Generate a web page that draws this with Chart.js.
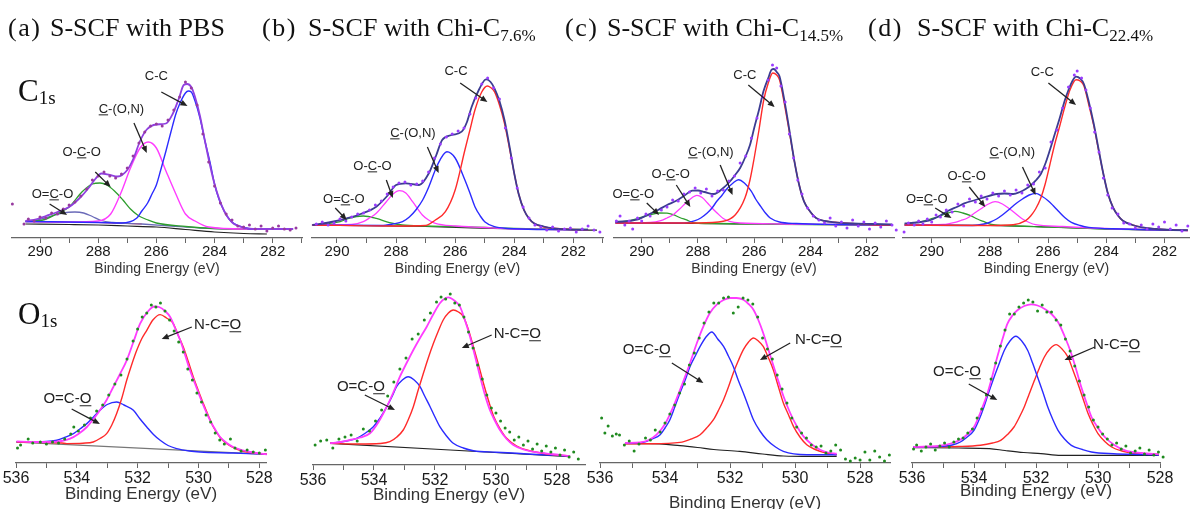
<!DOCTYPE html>
<html>
<head>
<meta charset="utf-8">
<title>XPS C1s / O1s fits</title>
<script src="https://cdn.jsdelivr.net/npm/chart.js@4.4.1/dist/chart.umd.min.js"></script>
<style>
    body { margin: 0; width: 1190px; height: 509px; overflow: hidden; position: relative; background: #fff; }
    canvas { position: absolute; }
    .head { position: absolute; z-index: 2; font-family: 'Liberation Serif', 'Times New Roman', serif; font-size: 26px; line-height: 1; white-space: nowrap; color: #111; }
    .head sub { font-size: 17px; vertical-align: -5px; line-height: 0; }
    .elem { position: absolute; z-index: 2; font-family: 'Liberation Serif', 'Times New Roman', serif; font-size: 31px; line-height: 1; color: #111; }
    .elem sub { font-size: 19px; vertical-align: -3px; line-height: 0; }
</style>
</head>
<body>
<div id="stage"></div>
<div class="head" style="left:8px;top:15px;letter-spacing:1.5px">(a)</div>
<div class="head" style="left:50px;top:15px">S-SCF with PBS</div>
<div class="head" style="left:262px;top:15px;letter-spacing:1.5px">(b)</div>
<div class="head" style="left:308px;top:15px">S-SCF with Chi-C<sub>7.6%</sub></div>
<div class="head" style="left:565px;top:15px;letter-spacing:1.5px">(c)</div>
<div class="head" style="left:607px;top:15px">S-SCF with Chi-C<sub>14.5%</sub></div>
<div class="head" style="left:868px;top:15px;letter-spacing:1.5px">(d)</div>
<div class="head" style="left:917px;top:15px">S-SCF with Chi-C<sub>22.4%</sub></div>
<div class="elem" style="left:18px;top:75px">C<sub>1s</sub></div>
<div class="elem" style="left:18px;top:298px">O<sub>1s</sub></div>

<script>
// ---- data: [binding energy (eV), intensity (a.u.)] ----

// C1s, (a) PBS
const c1sA_bg = [[290.5,14],[289,13.5],[288,13],[287,12],[286,11],[285,8.5],[284,6],[283,4.5],[282.2,4]];
const c1sA_base = [[290.5,16.5],[289,16],[288,15.5],[287,14.5],[286.5,14]];
const c1sA_cc = [[290.5,16.5],[288,15.5],[287.2,15],[286.67,20],[286.5,27],[286.3,35],[286.15,44],[286,53],[285.85,68],[285.67,87],[285.5,106],[285.33,124],[285.2,134],[285.0,145],[284.9,147],[284.8,146],[284.67,137],[284.5,120],[284.33,97],[284.15,75],[284,54],[283.85,39],[283.67,27],[283.5,19],[283.33,14.5],[283,10.5],[282.67,9],[281.3,9]];
const c1sA_con = [[290.5,16.5],[289,16],[288,17],[287.57,24],[287.22,45],[286.89,70],[286.56,90],[286.28,96],[286,90],[285.67,67],[285.33,44],[285,24],[284.67,17],[284.2,11],[283,9],[281.3,9]];
const c1sA_oco = [[290.5,16.5],[289.9,18],[289.44,24],[289,31],[288.56,46],[288.2,54],[287.94,55],[287.7,53],[287.44,47],[287.15,38],[286.89,29],[286.6,22],[286.33,18.5],[286,15],[285,11.5],[284,9.5],[283,9],[281.3,9]];
const c1sA_ococ = [[290.5,16.5],[290.1,18],[289.78,20.5],[289.22,25],[288.8,26],[288.5,25],[288.2,21.5],[287.9,17.5],[287.5,15.5],[286.5,14],[285.5,12],[284.5,10],[283,9],[281.3,9]];
const c1sA_env = [[290.5,17],[290.1,19],[289.8,22],[289.4,26],[289,31],[288.6,41],[288.33,50],[288.1,59],[287.89,64.5],[287.6,63],[287.33,61.5],[287,68],[286.78,80],[286.56,97],[286.33,108.5],[286,113.5],[285.67,114.5],[285.44,124],[285.22,140],[285.06,153],[284.94,154],[284.8,151],[284.67,141],[284.5,122],[284.33,97],[284.15,72],[284,54],[283.85,40],[283.67,27],[283.5,19],[283.33,14],[283,10.5],[282.67,9],[281.3,9]];
const c1sA_dots = [[290.95,34],[290.55,14],[290.4,19],[290.2,17],[290.0,21],[289.8,20],[289.6,25],[289.4,24],[289.2,29],[289.0,33],[288.8,36],[288.6,42],[288.4,49],[288.2,58],[288.0,62],[287.8,66],[287.6,62],[287.4,60],[287.2,64],[287.0,70],[286.8,82],[286.6,95],[286.4,106],[286.2,112],[286.0,114],[285.8,112],[285.6,118],[285.4,128],[285.2,141],[285.0,156],[284.8,150],[284.6,133],[284.4,104],[284.2,76],[284.0,52],[283.8,35],[283.6,24],[283.4,18],[283.2,12],[283.0,11],[282.8,13],[282.6,9],[282.4,12],[282.2,7],[282.0,10],[281.8,12],[281.6,9],[281.4,8],[281.2,10]];

// C1s, (b) Chi-C 7.6%
const c1sB_bg = [[290.85,13],[287,11.5],[284,9],[282,8],[281.2,7.8]];
const c1sB_env = [[290.83,13],[290.2,16],[289.67,19.7],[289.2,24],[288.67,31.3],[288.3,42],[288,53],[287.67,54.7],[287.22,53],[286.89,64.7],[286.65,82],[286.44,98],[286.11,103],[285.78,106.3],[285.6,116],[285.44,131.3],[285.2,148],[285,158],[284.94,158.7],[284.8,156],[284.67,149.7],[284.5,137],[284.33,118],[284.15,90],[284,64.7],[283.85,44],[283.67,28],[283.5,19.5],[283.33,14.7],[283,11.5],[282.67,9.7],[282.22,8.7],[281.5,8.3]];
const c1sB_cc = [[290.83,13],[288,12],[287,12.5],[286.67,18],[286.33,26.3],[286,48],[285.67,88],[285.5,108],[285.33,128],[285.1,146],[284.91,152],[284.8,150.5],[284.67,146.3],[284.5,133],[284.33,114.7],[284.15,88],[284,64.7],[283.85,44],[283.67,28],[283.5,19.5],[283.33,14.7],[283,11],[282.67,9.7],[282.22,8.7],[281.5,8.3]];
const c1sB_con = [[290.83,13],[288.5,12.5],[288.11,14],[287.78,16.3],[287.55,21],[287.33,28],[287.1,38],[286.89,51.3],[286.6,73],[286.28,86.3],[286,80],[285.67,58],[285.5,45],[285.33,31.3],[285.15,22],[285,16.3],[284.67,11.3],[284.2,9.5],[283,8.5],[281.5,8.3]];
const c1sB_oco = [[290.83,13],[289.5,13.5],[289.11,16.3],[288.9,20],[288.67,24.7],[288.33,36.3],[288.1,44],[287.89,47.3],[287.67,45],[287.44,36.3],[287.11,23],[286.9,18],[286.67,14.7],[286,12],[285,10.5],[284,9],[282.5,8.5],[281.5,8.3]];
const c1sB_ococ = [[290.83,13],[290.3,14.5],[289.89,16.3],[289.6,19.7],[289.11,22],[288.67,19.7],[288.22,15.3],[287.8,13],[287,12],[286,11.5],[285,10.5],[284,9.5],[283,9],[281.5,8.5]];
const c1sB_dots = [[290.7,14],[290.5,16],[290.3,13],[290.1,15],[289.9,19],[289.7,17],[289.5,21],[289.3,24],[289.1,25],[288.9,28],[288.7,33],[288.5,37],[288.3,44],[288.1,51],[287.9,55],[287.7,56],[287.5,53],[287.3,54],[287.1,57],[286.9,66],[286.7,80],[286.5,94],[286.3,101],[286.1,104],[285.9,107],[285.7,110],[285.5,124],[285.3,140],[285.1,154],[284.9,160],[284.7,150],[284.5,139],[284.3,110],[284.1,80],[283.9,50],[283.7,31],[283.5,20],[283.3,13],[283.1,11],[282.9,8],[282.7,11],[282.5,7],[282.3,9],[282.1,10],[281.9,6],[281.7,9],[281.5,12],[281.3,8],[281.1,6]];

// C1s, (c) Chi-C 14.5%
const c1sC_bg = [[290.93,15],[288,14.5],[286,14],[284,13.5],[281.1,13]];
const c1sC_env = [[290.93,16],[290.17,18.3],[289.8,23],[289.4,28.3],[289.1,33],[288.77,37.3],[288.5,42],[288.2,47.3],[288,47.5],[287.77,46],[287.43,44],[287.1,50],[286.88,56],[286.67,63.3],[286.5,70],[286.33,80],[286.15,93],[286,110],[285.83,128],[285.67,146.7],[285.5,160],[285.38,168.3],[285.3,169],[285.2,166],[285.1,161.7],[284.9,133.3],[284.75,108],[284.57,76.7],[284.4,53],[284.23,36.7],[284,26],[283.8,20],[283.5,17],[283.13,15.7],[282.5,14.5],[281.8,14],[281.1,13.5]];
const c1sC_cc = [[290.93,15],[288,15],[287.1,16.7],[286.67,23.3],[286.33,40],[286.15,58],[286,80],[285.83,108],[285.67,136.7],[285.5,155],[285.34,165],[285.2,163],[285.1,158.3],[284.9,130],[284.75,106],[284.57,76.7],[284.4,53],[284.23,36.7],[284,26],[283.8,20],[283.5,17],[283.13,15.7],[282.5,14.5],[281.8,13.3],[281.1,13]];
const c1sC_con = [[290.93,15],[288.5,15],[288.1,17.3],[287.9,20],[287.67,25],[287.5,30],[287.33,36.7],[287.15,42.5],[287,48.3],[286.75,55],[286.56,58.3],[286.35,55],[286.1,46.7],[285.95,39],[285.77,31.7],[285.6,25],[285.43,20],[285.1,16],[284.5,14.5],[283,13.5],[281.1,13]];
const c1sC_oco = [[290.93,15],[289.7,15.5],[289.32,17.3],[289.1,20],[288.88,23.3],[288.65,29],[288.43,35],[288.2,40.5],[288.04,42.7],[287.85,40.5],[287.66,35],[287.5,30],[287.32,25],[287.1,19.5],[286.88,16.7],[286.5,15],[285,14],[283,13.5],[281.1,13]];
const c1sC_ococ = [[290.93,15.5],[290.5,17],[290.17,19.3],[289.8,22.3],[289.4,25],[289.1,24.8],[288.88,23.3],[288.65,20.5],[288.43,18.3],[288.1,15],[287.5,14.5],[286,14],[284,13.5],[281.1,13]];
const c1sC_dots = [[290.9,17],[290.77,22],[290.6,13],[290.45,17],[290.32,9],[290.15,20],[290.0,17],[289.85,24],[289.7,22],[289.5,27],[289.3,28],[289.1,31],[288.9,38],[288.7,37],[288.5,44],[288.3,46],[288.1,50],[287.9,45],[287.7,49],[287.5,42],[287.3,47],[287.1,48],[286.9,57],[286.7,62],[286.5,75],[286.3,82],[286.1,100],[285.9,120],[285.7,141],[285.5,158],[285.35,173],[285.2,170],[285.05,152],[284.9,136],[284.75,104],[284.6,80],[284.45,58],[284.3,44],[284.1,30],[283.9,22],[283.7,18],[283.5,15],[283.3,20],[283.1,12],[282.9,16],[282.7,10],[282.5,18],[282.3,12],[282.1,16],[281.9,9],[281.7,15],[281.5,11],[281.3,17],[281.1,13],[280.95,8]];

// C1s, (d) Chi-C 22.4%
const c1sD_bg = [[290.93,13],[288,12.5],[286,11],[284,9],[281.2,7.5]];
const c1sD_env = [[290.93,14.6],[290.5,15.5],[290.1,17.3],[289.8,21],[289.43,27.3],[289.1,31.5],[288.88,34.6],[288.5,38],[288.2,40.6],[287.76,44],[287.5,44.5],[287.2,44],[286.97,46],[286.77,49],[286.6,52.5],[286.43,57.3],[286.25,64],[286.1,74],[285.95,87],[285.77,104],[285.6,120],[285.43,137.3],[285.3,148],[285.16,157.3],[285.04,161.3],[284.9,159.5],[284.77,154],[284.6,136],[284.43,114],[284.26,88],[284.1,64],[283.95,45],[283.77,30.6],[283.6,22.5],[283.43,17.3],[283.1,13],[282.77,10.6],[282.3,9],[281.77,8],[281.2,7.8]];
const c1sD_cc = [[290.93,13],[288,12.5],[287.2,13.3],[286.77,17.3],[286.6,22],[286.43,29],[286.25,40],[286.1,54],[285.95,72],[285.77,94],[285.6,112],[285.43,130.6],[285.25,148],[285.04,158.3],[284.9,157],[284.77,152.3],[284.6,133],[284.43,112.3],[284.26,87],[284.1,64],[283.95,45],[283.77,30.6],[283.6,22.5],[283.43,17.3],[283.1,13],[282.77,10.6],[282.3,9],[281.77,8],[281.2,7.5]];
const c1sD_con = [[290.93,13],[288.6,12.5],[288.2,14],[287.98,16],[287.77,19],[287.55,23.5],[287.32,29],[287.1,34.5],[286.88,39],[286.65,43],[286.43,44.6],[286.2,41.5],[286,37.3],[285.83,32.5],[285.66,27.3],[285.43,20.5],[285.2,15.6],[284.9,12.5],[284.6,10.6],[283.5,9],[281.2,7.5]];
const c1sD_oco = [[290.93,13],[289.6,13.5],[289.2,15.6],[289,17.5],[288.77,20],[288.55,24.5],[288.32,29],[288.05,34],[287.82,36.3],[287.57,34],[287.32,29],[287.1,24],[286.88,19],[286.65,15.5],[286.43,13.3],[285.5,11.5],[284,9.5],[281.2,7.5]];
const c1sD_ococ = [[290.93,14],[290.6,15.3],[290.32,16.6],[290.05,19],[289.77,21.3],[289.5,24.5],[289.2,26.6],[288.93,25],[288.66,22.3],[288.43,19],[288.2,16.3],[287.95,13.5],[287.5,12.5],[286,11],[284,9],[282,8],[281.2,7.8]];
const c1sD_dots = [[290.95,6],[290.8,15],[290.6,13],[290.45,17],[290.3,14],[290.15,19],[290.0,16],[289.85,23],[289.7,21],[289.5,28],[289.3,26],[289.1,34],[288.9,32],[288.7,39],[288.5,36],[288.3,42],[288.1,39],[287.9,45],[287.7,42],[287.5,47],[287.3,43],[287.1,48],[286.9,45],[286.7,53],[286.5,54],[286.3,66],[286.1,70],[285.9,96],[285.7,108],[285.5,130],[285.3,151],[285.1,163],[285.0,167],[284.85,160],[284.7,148],[284.55,130],[284.4,106],[284.25,86],[284.1,60],[283.95,43],[283.8,30],[283.6,24],[283.4,15],[283.2,14],[283.0,10],[282.8,13],[282.6,9],[282.4,14],[282.2,11],[282.0,16],[281.8,9],[281.6,13],[281.4,7],[281.2,12]];

// O1s, (a) PBS
const o1sA_bg = [[536,21],[527.75,8.7]];
const o1sA_env = [[535.98,21.7],[535.5,21],[534.88,21],[534.5,22],[534.22,24.3],[533.95,29],[533.67,36],[533.45,44],[533.24,52.7],[533.02,63],[532.8,76],[532.58,89],[532.36,102.7],[532.14,121],[531.92,139.3],[531.65,152],[531.45,156.5],[531.3,156],[531.1,152],[530.93,146],[530.77,135],[530.6,122.7],[530.44,108],[530.28,92.7],[530.11,79],[529.95,66],[529.79,54],[529.62,42.7],[529.45,33.5],[529.29,26],[529.07,20],[528.86,16],[528.58,13],[528.3,11],[527.75,8.7]];
const o1sA_nco = [[535.98,21],[534.5,20],[534.33,19.4],[533.8,19.8],[533.46,21],[533.24,24.5],[533.02,29.4],[532.85,38],[532.69,49.4],[532.52,65],[532.36,82.7],[532.2,98],[532.03,112.7],[531.87,124],[531.7,132.7],[531.5,143],[531.26,148.4],[531.05,145],[530.83,139.4],[530.67,128],[530.5,116],[530.33,101],[530.17,86],[530,72],[529.84,59.4],[529.67,47],[529.51,36],[529.3,26],[529.07,19.4],[528.75,14],[528.41,11],[527.75,8.7]];
const o1sA_oco = [[535.98,21],[535,21.5],[534.66,22.7],[534.4,25.5],[534.11,29.4],[533.9,34],[533.67,39.4],[533.45,46],[533.24,52.7],[533,58.5],[532.69,61],[532.45,58],[532.14,52.7],[531.92,44],[531.7,36],[531.48,28.5],[531.26,22.7],[531,17.5],[530.72,14.4],[530.3,12],[529.95,11],[528.86,10],[527.75,8.7]];
const o1sA_dots = [[535.95,15],[535.85,18],[535.6,24],[535.45,20],[535.2,21],[535.0,19],[534.8,21],[534.6,20],[534.4,24],[534.2,29],[534.1,36],[533.95,32],[533.75,38],[533.55,45],[533.35,52],[533.15,58],[532.95,68],[532.75,79],[532.55,88],[532.35,104],[532.15,122],[532.0,134],[531.85,146],[531.7,150],[531.55,158],[531.4,156],[531.25,160],[531.1,152],[530.95,143],[530.8,132],[530.65,121],[530.5,111],[530.35,94],[530.2,83],[530.05,70],[529.9,61],[529.75,48],[529.6,41],[529.45,30],[529.3,23],[529.15,19],[528.95,24],[528.8,15],[528.6,12],[528.4,13],[528.2,11],[528.0,10],[527.8,13],[527.6,-2],[527.4,3],[527.2,-7],[527.0,9]];

// O1s, (b) Chi-C 7.6%
const o1sB_bg = [[535.44,21.7],[527.57,8.3]];
const o1sB_env = [[535.44,21.7],[535.1,23],[534.79,25],[534.45,27.5],[534.13,31.7],[533.85,43],[533.58,58.3],[533.36,73],[533.15,88.3],[532.93,102],[532.71,115],[532.49,127],[532.27,138.3],[532.05,151],[531.84,161.7],[531.65,167],[531.56,167.7],[531.37,164.5],[531.18,158.3],[531.02,145],[530.85,128.3],[530.68,108],[530.52,88.3],[530.36,70],[530.2,55],[530.03,44],[529.87,35],[529.65,26],[529.43,20],[529.1,15.5],[528.78,13.3],[528.2,11],[527.57,9]];
const o1sB_nco = [[535.44,21.7],[534.5,21],[533.8,21.5],[533.48,23.3],[533.25,28],[533.04,35],[532.88,45],[532.71,58.3],[532.55,75],[532.38,91.7],[532.22,107],[532.05,121.7],[531.89,134],[531.73,145],[531.56,152],[531.4,155],[531.23,153],[531.07,148.3],[530.9,135],[530.74,118.3],[530.57,100],[530.41,81.7],[530.24,64],[530.07,48.3],[529.86,36],[529.65,26.7],[529.32,19],[528.99,15],[528.3,11],[527.57,9]];
const o1sB_oco = [[535.44,21.7],[534.9,24],[534.57,26.7],[534.3,31.5],[534.02,38.3],[533.8,47],[533.58,58.3],[533.4,69],[533.26,78.3],[533.07,85],[532.88,88.3],[532.68,85],[532.49,78.3],[532.33,68.5],[532.16,58.3],[532,48],[531.84,38.3],[531.62,29],[531.4,21.7],[531.07,17],[530.74,14.3],[530,12.8],[529.32,11.7],[528.5,10.2],[527.57,9]];
const o1sB_dots = [[535.93,20],[535.75,24],[535.55,25],[535.35,17],[535.15,26],[534.95,28],[534.75,30],[534.55,24],[534.35,36],[534.15,34],[533.95,44],[533.75,55],[533.55,69],[533.35,83],[533.15,96],[532.95,107],[532.75,126],[532.55,131],[532.35,145],[532.15,152],[531.95,163],[531.8,168],[531.65,166],[531.5,171],[531.35,162],[531.2,160],[531.05,148],[530.9,133],[530.75,117],[530.6,100],[530.45,86],[530.3,70],[530.15,57],[530.0,52],[529.85,44],[529.7,37],[529.55,33],[529.4,25],[529.25,28],[529.1,20],[528.95,24],[528.8,16],[528.65,21],[528.5,14],[528.35,19],[528.2,13],[528.05,17],[527.9,10],[527.75,15],[527.6,8],[527.45,13],[527.3,6]];

// O1s, (c) Chi-C 14.5%
const o1sC_bg = [[535.23,19.3],[534.5,19.3],[533.54,17.3],[533,15.5],[532.5,13.5],[531.7,11.6],[531,9],[530.36,7],[529.5,6.6],[528.72,6.6]];
const o1sC_env = [[535.23,20],[534.77,20.6],[534.5,23],[534.26,28.3],[534,39],[533.74,56.6],[533.48,78],[533.23,100],[533.02,120],[532.82,136.6],[532.62,150],[532.41,158.3],[532.2,163],[532,165],[531.8,165],[531.59,163.3],[531.43,159],[531.28,153.3],[531.13,143],[530.98,130],[530.77,108],[530.56,86.6],[530.36,67],[530.15,50],[529.95,37],[529.74,26.6],[529.5,19],[529.23,13.3],[528.98,10.5],[528.72,9.3]];
const o1sC_oco = [[535.23,20],[534.67,20.6],[534.4,24],[534.15,28.3],[534,35],[533.85,43.3],[533.7,56],[533.54,70],[533.38,83],[533.23,96.6],[533.07,107],[532.92,116.6],[532.74,126],[532.56,131],[532.38,124],[532.2,116.6],[532.05,107],[531.9,96.6],[531.75,83],[531.59,70],[531.43,56],[531.28,43.3],[531.08,32],[530.87,23.3],[530.6,16],[530.36,11.6],[529.64,8.3],[528.72,8.3]];
const o1sC_nco = [[535.23,19.3],[534.4,19.3],[533.54,20.6],[533.2,24],[532.92,28.3],[532.72,35],[532.51,43.3],[532.35,53],[532.2,63.3],[532.05,76],[531.9,90],[531.75,102],[531.59,113.3],[531.43,121],[531.28,125],[531.13,122],[530.98,116.6],[530.83,106],[530.67,93.3],[530.52,77],[530.36,60],[530.2,48],[530.05,36.6],[529.85,26],[529.64,18.3],[529.38,13.5],[529.13,10.6],[528.72,8.3]];
const o1sC_dots = [[535.95,45],[535.85,30],[535.75,37],[535.62,27],[535.5,29],[535.4,28],[535.25,18],[535.1,22],[534.95,12],[534.8,19],[534.6,25],[534.45,23],[534.3,33],[534.15,31],[534.0,40],[533.85,49],[533.7,58],[533.55,70],[533.4,79],[533.25,98],[533.1,110],[532.95,125],[532.8,140],[532.65,151],[532.5,160],[532.35,160],[532.2,165],[532.05,166],[531.9,150],[531.75,156],[531.6,165],[531.45,163],[531.3,159],[531.15,146],[531.0,125],[530.85,114],[530.7,104],[530.55,88],[530.4,74],[530.25,60],[530.1,45],[529.95,36],[529.8,30],[529.65,25],[529.5,18],[529.35,16],[529.2,17],[529.05,10],[528.9,12],[528.75,18],[528.6,13],[528.45,4],[528.3,2],[528.15,5],[528.0,3],[527.85,11],[527.7,3],[527.55,12],[527.4,6],[527.25,2],[527.1,8]];

// O1s, (d) Chi-C 22.4%
const o1sD_bg = [[535.96,15.4],[534.5,15],[533.5,14.4],[533,12.5],[532.4,10.5],[531.84,9.4],[531.2,7.7],[530,7.7],[528.04,7.7]];
const o1sD_env = [[535.96,16],[535.5,16.5],[535.09,17.3],[534.75,19.5],[534.44,23.3],[534.2,29],[534,36],[533.8,50],[533.57,69.3],[533.4,88],[533.25,106],[533.08,124],[532.92,139.3],[532.76,147.5],[532.6,152.7],[532.38,157],[532.16,158.7],[531.95,157.5],[531.73,154.3],[531.5,149],[531.29,141],[531.08,127],[530.86,109.3],[530.7,93],[530.54,76],[530.37,60],[530.21,46],[530,35],[529.78,26],[529.45,17.5],[529.13,12.7],[528.6,10],[528.04,8.7]];
const o1sD_oco = [[535.96,16],[535,16.7],[534.7,18],[534.44,21],[534.22,26],[534,32.7],[533.84,43],[533.68,56],[533.52,71],[533.35,86],[533.18,100],[533.02,112.7],[532.84,122],[532.65,126.7],[532.46,122],[532.27,112.7],[532.11,100],[531.95,86],[531.78,71],[531.62,56],[531.45,43],[531.29,32.7],[531.08,24],[530.86,17.7],[530.5,13.5],[530.21,11],[529.5,9.3],[528.5,8.5],[528.04,8]];
const o1sD_nco = [[535.96,16],[534.5,16.5],[533.79,17.7],[533.4,20],[533.14,22.7],[532.92,28.5],[532.71,36],[532.55,45],[532.38,56],[532.22,69],[532.05,82.7],[531.89,95],[531.73,106],[531.54,114.5],[531.35,118.4],[531.16,114],[530.97,106],[530.81,93],[530.65,79.4],[530.48,64],[530.32,49.4],[530.16,38.5],[530,29.4],[529.78,21.5],[529.56,16],[529.23,12],[528.91,10],[528.5,9],[528.04,8.7]];
const o1sD_dots = [[535.95,14],[535.85,18],[535.7,12],[535.55,16],[535.4,19],[535.25,13],[535.1,17],[534.95,20],[534.8,16],[534.65,21],[534.5,24],[534.35,25],[534.2,30],[534.05,34],[533.9,45],[533.75,54],[533.6,68],[533.45,84],[533.3,100],[533.15,117],[533.0,133],[532.85,149],[532.7,149],[532.55,156],[532.4,160],[532.25,163],[532.1,161],[531.95,152],[531.8,158],[531.65,151],[531.5,151],[531.35,143],[531.2,138],[531.05,124],[530.9,112],[530.75,97],[530.6,82],[530.45,68],[530.3,56],[530.15,43],[530.0,36],[529.85,29],[529.7,24],[529.55,18],[529.4,20],[529.25,14],[529.1,17],[528.95,10],[528.8,12],[528.65,15],[528.5,9],[528.35,13],[528.2,8],[528.05,11],[527.9,6],[527.75,12],[527.6,16],[527.45,5],[527.3,13],[527.15,9],[527.0,12]];

// peak labels (text, underlined char index, text centre, arrow tail, arrow head) in data units
const c1sA_notes = [
    { text: 'C-C', u: -1, at: [286.0, 162], from: [285.83, 146], to: [284.93, 132] },
    { text: 'C-(O,N)', u: 0, at: [287.2, 129], from: [286.77, 115], to: [286.33, 85] },
    { text: 'O-C-O', u: 2, at: [288.57, 86], from: [288.1, 66], to: [287.57, 51] },
    { text: 'O=C-O', u: 2, at: [289.57, 44], from: [289.67, 34], to: [289.07, 23] }
];
const c1sB_notes = [
    { text: 'C-C', u: -1, at: [285.97, 167], from: [285.83, 155], to: [284.91, 136] },
    { text: 'C-(O,N)', u: 0, at: [287.43, 105], from: [286.94, 91], to: [286.56, 65] },
    { text: 'O-C-O', u: 2, at: [288.8, 72], from: [288.33, 58], to: [288.11, 40] },
    { text: 'O=C-O', u: 2, at: [289.77, 39], from: [290.06, 30], to: [289.67, 18] }
];
const c1sC_notes = [
    { text: 'C-C', u: -1, at: [286.33, 163], from: [286.21, 153], to: [285.27, 131] },
    { text: 'C-(O,N)', u: 0, at: [287.54, 86], from: [287.21, 73], to: [286.77, 43] },
    { text: 'O-C-O', u: 2, at: [288.97, 64], from: [288.77, 53], to: [288.27, 31] },
    { text: 'O=C-O', u: 2, at: [290.3, 44], from: [289.82, 35], to: [289.38, 23] }
];
const c1sD_notes = [
    { text: 'C-C', u: -1, at: [286.2, 166], from: [285.99, 155], to: [285.04, 133] },
    { text: 'C-(O,N)', u: 0, at: [287.23, 86], from: [286.88, 71], to: [286.43, 43] },
    { text: 'O-C-O', u: 2, at: [288.8, 62], from: [288.71, 51], to: [288.16, 31] },
    { text: 'O=C-O', u: 2, at: [290.17, 39], from: [289.88, 30], to: [289.32, 20] }
];
const o1sA_notes = [
    { text: 'N-C=O', u: 4, at: [529.37, 138], from: [530.22, 136], to: [531.21, 124] },
    { text: 'O=C-O', u: 4, at: [534.31, 64], from: [534.17, 54], to: [533.24, 39] }
];
const o1sB_notes = [
    { text: 'N-C=O', u: 4, at: [529.3, 131], from: [530.14, 130], to: [531.12, 117] },
    { text: 'O=C-O', u: 4, at: [534.43, 78], from: [534.3, 70], to: [533.31, 55] }
];
const o1sC_notes = [
    { text: 'N-C=O', u: 4, at: [529.28, 123], from: [530.15, 120], to: [531.08, 103] },
    { text: 'O=C-O', u: 4, at: [534.56, 113], from: [533.79, 100], to: [532.82, 80] }
];
const o1sD_notes = [
    { text: 'N-C=O', u: 4, at: [529.4, 118], from: [530.1, 116], to: [531.08, 103] },
    { text: 'O=C-O', u: 4, at: [534.55, 91], from: [534.17, 79], to: [533.25, 63] }
];

// ---- colours ----
const BLUE = '#2b2bff', RED = '#ff2a2a', MAGENTA = '#ff3cff', GREEN = '#2e9e2e', INK = '#222222';
const NAVY = '#3c3c92', VIOLET = '#9a3cff', PURPLE_A = '#9040e0', PURPLE_DOT = '#973a9f', O_GREEN = '#1f8a1f';

// ---- panel layout (pixel box of each axis and its energy range) ----
const Y_SPAN = 180;
const panels = [
    { left: 12, right: 302, axisY: 238, beMax: 290.963, beMin: 280.993, scaleH: 40, big: false, notes: c1sA_notes,
      dots: [c1sA_dots, PURPLE_DOT],
      lines: [[c1sA_env, PURPLE_A, 1.8], [c1sA_cc, BLUE, 1.4], [c1sA_con, MAGENTA, 1.4], [c1sA_oco, GREEN, 1.3], [c1sA_ococ, '#6a6ab8', 1.3], [c1sA_base, RED, 1.2], [c1sA_bg, INK, 1.2]] },
    { left: 312, right: 603, axisY: 238, beMax: 290.846, beMin: 280.995, scaleH: 40, big: false, notes: c1sB_notes,
      dots: [c1sB_dots, VIOLET],
      lines: [[c1sB_env, NAVY, 1.8], [c1sB_cc, RED, 1.4], [c1sB_con, BLUE, 1.4], [c1sB_oco, MAGENTA, 1.3], [c1sB_ococ, GREEN, 1.3], [c1sB_bg, INK, 1.2]] },
    { left: 614, right: 894, axisY: 238, beMax: 290.985, beMin: 281.029, scaleH: 40, big: false, notes: c1sC_notes,
      dots: [c1sC_dots, VIOLET],
      lines: [[c1sC_env, NAVY, 1.8], [c1sC_cc, RED, 1.4], [c1sC_con, BLUE, 1.4], [c1sC_oco, MAGENTA, 1.3], [c1sC_ococ, GREEN, 1.3], [c1sC_bg, INK, 1.2]] },
    { left: 903, right: 1190, axisY: 238, beMax: 290.986, beMin: 281.124, scaleH: 40, big: false, notes: c1sD_notes,
      dots: [c1sD_dots, VIOLET],
      lines: [[c1sD_env, NAVY, 1.8], [c1sD_cc, RED, 1.4], [c1sD_con, BLUE, 1.4], [c1sD_oco, MAGENTA, 1.3], [c1sD_ococ, GREEN, 1.3], [c1sD_bg, INK, 1.2]] },
    { left: 16, right: 266, axisY: 463, beMax: 536, beMin: 527.78, scaleH: 42, big: true, notes: o1sA_notes,
      dots: [o1sA_dots, O_GREEN],
      lines: [[o1sA_env, MAGENTA, 1.8], [o1sA_nco, RED, 1.4], [o1sA_oco, BLUE, 1.4], [o1sA_bg, '#777777', 1.2]] },
    { left: 313, right: 585, axisY: 465, beMax: 536, beMin: 527.08, scaleH: 41, big: true, notes: o1sB_notes,
      dots: [o1sB_dots, O_GREEN],
      lines: [[o1sB_env, MAGENTA, 1.8], [o1sB_nco, RED, 1.4], [o1sB_oco, BLUE, 1.4], [o1sB_bg, INK, 1.2]] },
    { left: 600, right: 890, axisY: 463, beMax: 536, beMin: 527.08, scaleH: 51, big: true, notes: o1sC_notes,
      dots: [o1sC_dots, O_GREEN],
      lines: [[o1sC_env, MAGENTA, 1.8], [o1sC_oco, BLUE, 1.4], [o1sC_nco, RED, 1.4], [o1sC_bg, INK, 1.2]] },
    { left: 912, right: 1160, axisY: 463, beMax: 536, beMin: 528, scaleH: 39, big: true, notes: o1sD_notes,
      dots: [o1sD_dots, O_GREEN],
      lines: [[o1sD_env, MAGENTA, 1.8], [o1sD_oco, BLUE, 1.4], [o1sD_nco, RED, 1.4], [o1sD_bg, INK, 1.2]] }
];

const SANS = "'Liberation Sans', Arial, sans-serif";
const PAD = { left: 26, right: 26, top: 20 };

// peak labels with arrows, placed through the chart's own scales
const peakLabels = {
    id: 'peakLabels',
    afterDatasetsDraw(chart, args, opts) {
        const { ctx, scales: { x, y } } = chart;
        const px = (p) => [x.getPixelForValue(p[0]), y.getPixelForValue(p[1])];
        ctx.save();
        ctx.font = `${opts.size}px ${SANS}`;
        ctx.fillStyle = INK;
        ctx.strokeStyle = INK;
        ctx.textBaseline = 'middle';
        ctx.textAlign = 'left';
        (opts.items || []).forEach(item => {
            const [tx, ty] = px(item.at);
            const w = ctx.measureText(item.text).width;
            const x0 = tx - w / 2;
            ctx.fillText(item.text, x0, ty);
            if (item.u >= 0) {
                const ux = x0 + ctx.measureText(item.text.slice(0, item.u)).width;
                const uw = ctx.measureText(item.text[item.u]).width;
                const uy = ty + opts.size * 0.45;
                ctx.lineWidth = 1;
                ctx.beginPath();
                ctx.moveTo(ux, uy);
                ctx.lineTo(ux + uw, uy);
                ctx.stroke();
            }
            const [x1, y1] = px(item.from);
            const [x2, y2] = px(item.to);
            const ang = Math.atan2(y2 - y1, x2 - x1);
            const head = 7;
            ctx.lineWidth = 1.3;
            ctx.beginPath();
            ctx.moveTo(x1, y1);
            ctx.lineTo(x2 - Math.cos(ang) * head * 0.8, y2 - Math.sin(ang) * head * 0.8);
            ctx.stroke();
            ctx.beginPath();
            ctx.moveTo(x2, y2);
            ctx.lineTo(x2 - head * Math.cos(ang) + 3 * Math.sin(ang), y2 - head * Math.sin(ang) - 3 * Math.cos(ang));
            ctx.lineTo(x2 - head * Math.cos(ang) - 3 * Math.sin(ang), y2 - head * Math.sin(ang) + 3 * Math.cos(ang));
            ctx.closePath();
            ctx.fill();
        });
        ctx.restore();
    }
};

function toPoints(arr) {
    return arr.map(([x, y]) => ({ x, y }));
}

function lineDataset([arr, color, width]) {
    return {
        data: toPoints(arr),
        showLine: true,
        borderColor: color,
        borderWidth: width,
        pointRadius: 0,
        cubicInterpolationMode: 'monotone',
        fill: false,
        clip: false
    };
}

function buildPanel(p) {
    const width = p.right - p.left + PAD.left + PAD.right;
    const height = PAD.top + Y_SPAN + p.scaleH;
    const canvas = document.createElement('canvas');
    canvas.width = width;
    canvas.height = height;
    canvas.style.left = (p.left - PAD.left) + 'px';
    canvas.style.top = (p.axisY - Y_SPAN - PAD.top) + 'px';
    document.getElementById('stage').appendChild(canvas);

    const datasets = [{
        data: toPoints(p.dots[0]),
        showLine: false,
        pointRadius: 1.5,
        pointBorderWidth: 0,
        pointBackgroundColor: p.dots[1],
        clip: false
    }].concat(p.lines.map(lineDataset));

    return new Chart(canvas.getContext('2d'), {
        type: 'scatter',
        data: { datasets },
        options: {
            responsive: false,
            animation: false,
            devicePixelRatio: 1,
            layout: { padding: { left: PAD.left, right: PAD.right, top: PAD.top, bottom: 0 } },
            plugins: {
                legend: { display: false },
                tooltip: { enabled: false },
                peakLabels: { items: p.notes, size: p.big ? 15 : 13 }
            },
            scales: {
                x: {
                    type: 'linear',
                    reverse: true,
                    min: p.beMin,
                    max: p.beMax,
                    afterFit: (scale) => { scale.height = p.scaleH; },
                    border: { display: true, color: '#666666', width: 1.3 },
                    grid: { drawOnChartArea: false, drawTicks: true, tickLength: 5, color: '#666666' },
                    ticks: {
                        stepSize: 1,
                        includeBounds: false,
                        autoSkip: false,
                        maxRotation: 0,
                        padding: p.big ? 1 : 0,
                        color: '#1a1a1a',
                        font: { family: SANS, size: p.big ? 16 : 15 },
                        callback: (v) => (Math.round(v) % 2 === 0 ? String(Math.round(v)) : '')
                    },
                    title: {
                        display: true,
                        text: 'Binding Energy (eV)',
                        color: '#333333',
                        padding: { top: 0, bottom: 0 },
                        font: { family: SANS, size: p.big ? 17 : 14 }
                    }
                },
                y: { display: false, min: 0, max: Y_SPAN }
            }
        },
        plugins: [peakLabels]
    });
}

panels.forEach(buildPanel);
</script>
</body>
</html>
